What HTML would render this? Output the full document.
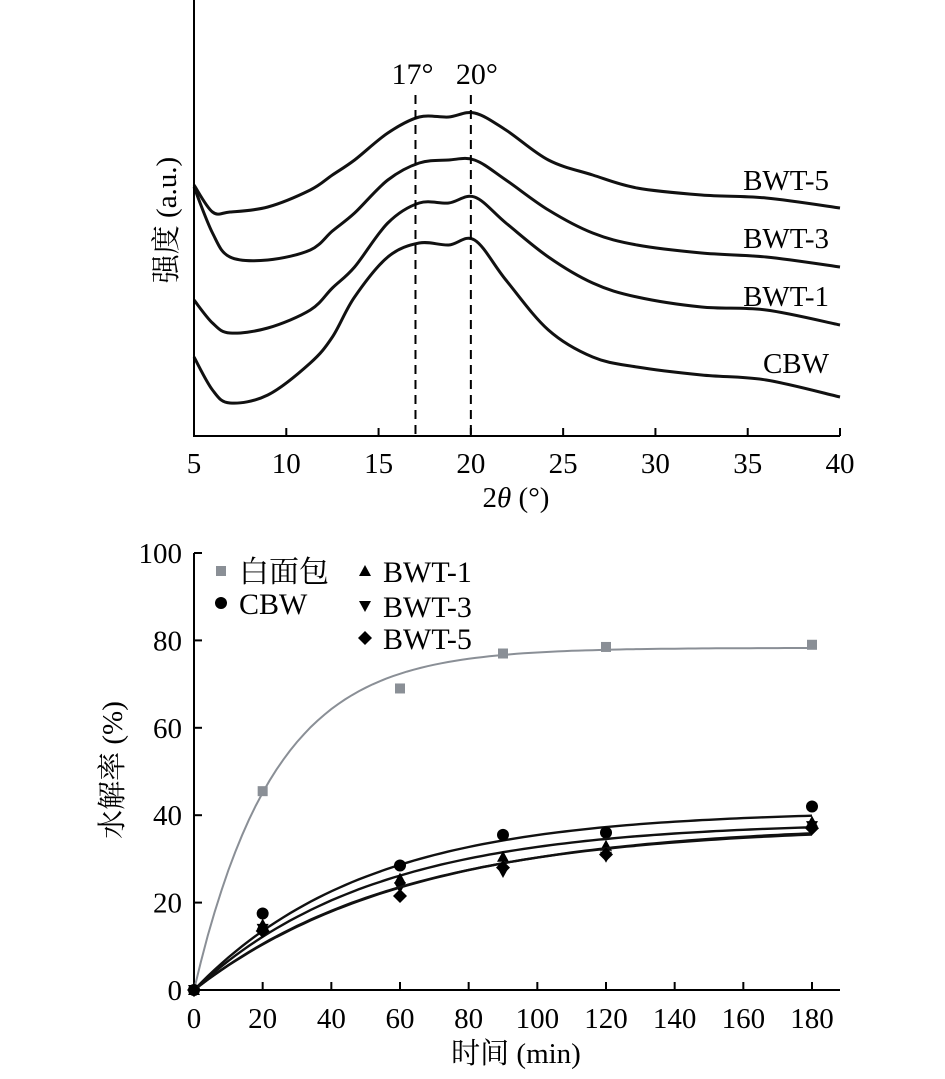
<!DOCTYPE html>
<html><head><meta charset="utf-8">
<style>
html,body{margin:0;padding:0;background:#fff;}
svg text{font-family:"Liberation Serif","Noto Serif CJK SC",serif;fill:#000;}
</style></head>
<body>
<svg id="fig" width="945" height="1074" viewBox="0 0 945 1074" xmlns="http://www.w3.org/2000/svg">
<g id="topchart"></g>
<g id="botchart"></g>
</svg>
<script>
// ---- XRD chart data ----
const xrdTheta = [5,6,6.95,9,11.3,12.5,13.7,15.5,17.2,18.8,20.2,21.9,24.2,26.6,29,32.5,36,40];
const xrdBWT5 = [251,224,224,229,246,261,276,303,319,319,323,306,276,261,248,241,238,228];
const xrdBWT3 = [249,203,179,176,186,205,223,256,273,276,276,256,226,203,191,183,179,169];
const xrdBWT1 = [136,113,103,108,126,148,169,213,233,233,239,213,179,153,139,129,126,111];
const xrdCBW  = [79,46,33,41,73,99,139,179,193,191,196,156,106,79,69,61,56,39];
const xrdNames = ['BWT-5','BWT-3','BWT-1','CBW'];
const xrdTicks = [5,10,15,20,25,30,35,40];
const xrdRefLines = [17,20];

// ---- hydrolysis chart data ----
const timePts = [20,60,90,120,180];
const whiteBread = [45.5,69,77,78.5,79];
const cbw = [17.5,28.5,35.5,36,42];
const bwt1 = [15,25.5,30.5,33,38.5];
const bwt3 = [14,23.5,27,30.5,37.5];
const bwt5 = [13.5,21.5,28,31,37];
const fitA = [78.3,41,38.5,38,37.5];
const fitK = [0.043,0.02,0.019,0.016,0.0165];
const hxTicks = [0,20,40,60,80,100,120,140,160,180];
const hyTicks = [0,20,40,60,80,100];

const NS='http://www.w3.org/2000/svg';
function mk(parent,tag,attrs,text){const e=document.createElementNS(NS,tag);for(const k in attrs)e.setAttribute(k,attrs[k]);if(text!==undefined)e.textContent=text;parent.appendChild(e);return e;}

// ---------- top chart ----------
const topG=document.getElementById('topchart');
const tx=t=>194+(t-5)*(646/35);
const ty=v=>436-v;
function smoothPath(xs,ys){
  let d='M'+xs[0].toFixed(1)+','+ys[0].toFixed(1);
  for(let i=0;i<xs.length-1;i++){
    const x0=xs[Math.max(0,i-1)],y0=ys[Math.max(0,i-1)],x1=xs[i],y1=ys[i],x2=xs[i+1],y2=ys[i+1],x3=xs[Math.min(xs.length-1,i+2)],y3=ys[Math.min(xs.length-1,i+2)];
    const c1x=x1+(x2-x0)/6,c1y=y1+(y2-y0)/6,c2x=x2-(x3-x1)/6,c2y=y2-(y3-y1)/6;
    d+=' C'+c1x.toFixed(1)+','+c1y.toFixed(1)+' '+c2x.toFixed(1)+','+c2y.toFixed(1)+' '+x2.toFixed(1)+','+y2.toFixed(1);
  }
  return d;
}
const xrdSeries=[xrdBWT5,xrdBWT3,xrdBWT1,xrdCBW];
const labelY=[190,248,306,373];
xrdSeries.forEach((s,i)=>{
  const p=mk(topG,'path',{d:smoothPath(xrdTheta.map(tx),s.map(ty)),fill:'none',stroke:'#111','stroke-width':3,'stroke-linejoin':'round'});
  
  
  const t=mk(topG,'text',{x:829,y:labelY[i],'font-size':29,'text-anchor':'end'},xrdNames[i]);
  
  
});
xrdRefLines.forEach(v=>{
  const l=mk(topG,'line',{x1:tx(v),x2:tx(v),y1:95,y2:436,stroke:'#000','stroke-width':2,'stroke-dasharray':'9,6'});
  
  
});
const t17=mk(topG,'text',{x:tx(17)-3,y:84,'font-size':30,'text-anchor':'middle'},'17°');


const t20=mk(topG,'text',{x:tx(20)+6,y:84,'font-size':30,'text-anchor':'middle'},'20°');


const ax=mk(topG,'path',{d:'M194,0 V436 H840',fill:'none',stroke:'#000','stroke-width':2});


xrdTicks.forEach(v=>{
  mk(topG,'line',{x1:tx(v),x2:tx(v),y1:436,y2:428,stroke:'#000','stroke-width':2});
  const t=mk(topG,'text',{x:tx(v),y:473,'font-size':29,'text-anchor':'middle'},String(v));
  
  
});
const xt=mk(topG,'text',{x:516,y:507,'font-size':29,'text-anchor':'middle'});


mk(xt,'tspan',{},'2');
mk(xt,'tspan',{'font-style':'italic'},'θ');
mk(xt,'tspan',{},' (°)');
const yt=mk(topG,'text',{x:0,y:0,'font-size':29,'text-anchor':'middle',transform:'translate(176,220) rotate(-90)'},'强度 (a.u.)');



// ---------- bottom chart ----------
const botG=document.getElementById('botchart');
const bx=t=>194+t*(618/180);
const byy=v=>990-v*4.37;
const bax=mk(botG,'path',{d:'M194,553 V990 H840',fill:'none',stroke:'#000','stroke-width':2});


hxTicks.forEach(v=>{
  mk(botG,'line',{x1:bx(v),x2:bx(v),y1:990,y2:982,stroke:'#000','stroke-width':2});
  const t=mk(botG,'text',{x:bx(v),y:1028,'font-size':29,'text-anchor':'middle'},String(v));
  
  
});
hyTicks.forEach(v=>{
  mk(botG,'line',{x1:194,x2:202,y1:byy(v),y2:byy(v),stroke:'#000','stroke-width':2});
  const t=mk(botG,'text',{x:182,y:byy(v)+10,'font-size':29,'text-anchor':'end'},String(v));
  
  
});
const hxt=mk(botG,'text',{x:516,y:1063,'font-size':29,'text-anchor':'middle'},'时间 (min)');


const hyt=mk(botG,'text',{x:0,y:0,'font-size':29,'text-anchor':'middle',transform:'translate(122,770) rotate(-90)'},'水解率 (%)');



const series=[whiteBread,cbw,bwt1,bwt3,bwt5];
const sNames=['white-bread','cbw','bwt-1','bwt-3','bwt-5'];
const sColor=['#8a8f96','#000','#000','#000','#000'];
const sMarker=['square','circle','up','down','diamond'];
function marker(g,type,x,y,c){
  if(type==='square')return mk(g,'rect',{x:x-5,y:y-5,width:10,height:10,fill:c});
  if(type==='circle')return mk(g,'circle',{cx:x,cy:y,r:6,fill:c});
  if(type==='up')return mk(g,'path',{d:`M${x},${y-6} L${x+6},${y+5} L${x-6},${y+5}Z`,fill:c});
  if(type==='down')return mk(g,'path',{d:`M${x},${y+6} L${x+6},${y-5} L${x-6},${y-5}Z`,fill:c});
  return mk(g,'path',{d:`M${x},${y-7} L${x+7},${y} L${x},${y+7} L${x-7},${y}Z`,fill:c});
}
series.forEach((s,i)=>{
  let d='';
  for(let t=0;t<=180;t+=2){const v=fitA[i]*(1-Math.exp(-fitK[i]*t));d+=(t?'L':'M')+bx(t).toFixed(1)+','+byy(v).toFixed(1);}
  const p=mk(botG,'path',{d:d,fill:'none',stroke:i===0?'#8a8f96':'#111','stroke-width':i===0?2:2.4});
  
  
  s.forEach((v,j)=>{
    const m=marker(botG,sMarker[i],bx(timePts[j]),byy(v),sColor[i]);
    
    
  });
  const m0=marker(botG,sMarker[i],bx(0),byy(0),sColor[i]);
  
  
});
// legend
const legend=[['square','#8a8f96','白面包',221,571],['circle','#000','CBW',221,603],['up','#000','BWT-1',365,571],['down','#000','BWT-3',365,606],['diamond','#000','BWT-5',365,638]];
legend.forEach(l=>{
  const g=mk(botG,'g',{});
  
  
  marker(g,l[0],l[3],l[4],l[1]);
  mk(g,'text',{x:l[3]+18,y:l[4]+11,'font-size':30},l[2]);
});
</script>
</body></html>
